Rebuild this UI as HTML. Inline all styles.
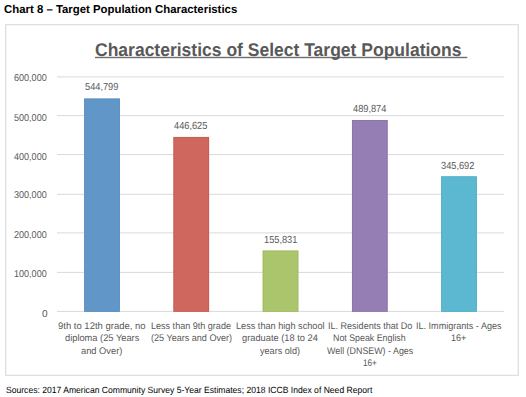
<!DOCTYPE html>
<html><head><meta charset="utf-8">
<style>
html,body{margin:0;padding:0;background:#fff;width:526px;height:397px;overflow:hidden;position:relative;font-family:"Liberation Sans",sans-serif;text-rendering:geometricPrecision;}
.t{position:absolute;white-space:nowrap;line-height:1;}
#title{left:4px;top:4.8px;font-size:11.5px;font-weight:bold;color:#000;transform:scaleX(0.99);transform-origin:0 0;}
#box{position:absolute;left:5px;top:24px;width:512px;height:350px;border:1px solid #E0E0E0;box-shadow:inset 0 0 0 1px #F4F4F4;}
svg{position:absolute;left:0;top:0;}
#ctitle{left:95px;top:41px;font-size:18.4px;font-weight:bold;color:#595959;transform:scaleX(0.952);transform-origin:0 0;}

.yl,.dl,.cl{position:absolute;white-space:nowrap;line-height:1;color:#595959;transform-origin:0 0;}
#src{left:6px;top:386px;font-size:9px;color:#000;transform:scaleX(0.953);transform-origin:0 0;}
</style></head><body>
<div id="title" class="t">Chart 8 – Target Population Characteristics</div>
<div id="box"></div>
<svg width="526" height="397" viewBox="0 0 526 397">
<g stroke="#D9D9D9" stroke-width="1">
<line x1="57" x2="504" y1="76.90" y2="76.90"/>
<line x1="57" x2="504" y1="115.60" y2="115.60"/>
<line x1="57" x2="504" y1="154.60" y2="154.60"/>
<line x1="57" x2="504" y1="194.30" y2="194.30"/>
<line x1="57" x2="504" y1="232.90" y2="232.90"/>
<line x1="57" x2="504" y1="272.40" y2="272.40"/>
<line x1="57" x2="504" y1="311.40" y2="311.40"/>
</g>
<rect x="84.23" y="98.59" width="35.6" height="212.91" fill="#6096C8"/>
<rect x="84.63" y="98.99" width="34.8" height="212.51" fill="none" stroke="#5A8DBF" stroke-width="0.8"/>
<rect x="173.47" y="136.96" width="35.6" height="174.54" fill="#CF675F"/>
<rect x="173.88" y="137.36" width="34.8" height="174.14" fill="none" stroke="#C45E57" stroke-width="0.8"/>
<rect x="262.72" y="250.60" width="35.6" height="60.90" fill="#ABC56C"/>
<rect x="263.12" y="251.00" width="34.8" height="60.50" fill="none" stroke="#A0BA62" stroke-width="0.8"/>
<rect x="351.97" y="120.06" width="35.6" height="191.44" fill="#957EB3"/>
<rect x="352.37" y="120.46" width="34.8" height="191.04" fill="none" stroke="#8A73A8" stroke-width="0.8"/>
<rect x="441.22" y="176.40" width="35.6" height="135.10" fill="#5BB8D0"/>
<rect x="441.62" y="176.80" width="34.8" height="134.70" fill="none" stroke="#52ADC5" stroke-width="0.8"/>
<rect x="95" y="56.8" width="372.3" height="1.4" fill="#6E6E6E"/>
</svg>
<div id="ctitle" class="t">Characteristics of Select Target Populations</div>
<div class="yl" style="left:13.90px;top:74.42px;font-size:10.0px;transform:scaleX(0.9046)">600,000</div>
<div class="yl" style="left:13.90px;top:114.42px;font-size:10.0px;transform:scaleX(0.9046)">500,000</div>
<div class="yl" style="left:13.90px;top:153.22px;font-size:10.0px;transform:scaleX(0.9046)">400,000</div>
<div class="yl" style="left:13.90px;top:191.42px;font-size:10.0px;transform:scaleX(0.9046)">300,000</div>
<div class="yl" style="left:13.90px;top:231.42px;font-size:10.0px;transform:scaleX(0.9046)">200,000</div>
<div class="yl" style="left:13.90px;top:270.43px;font-size:10.0px;transform:scaleX(0.9046)">100,000</div>
<div class="yl" style="left:41.70px;top:310.23px;font-size:10.0px;transform:scaleX(1.0090)">0</div>
<div class="dl" style="left:85.03px;top:82.58px;font-size:10.3px;transform:scaleX(0.8970)">544,799</div>
<div class="dl" style="left:174.28px;top:121.94px;font-size:10.3px;transform:scaleX(0.8970)">446,625</div>
<div class="dl" style="left:263.52px;top:235.58px;font-size:10.3px;transform:scaleX(0.8970)">155,831</div>
<div class="dl" style="left:352.77px;top:105.04px;font-size:10.3px;transform:scaleX(0.8970)">489,874</div>
<div class="dl" style="left:441.32px;top:162.39px;font-size:10.3px;transform:scaleX(0.8970)">345,692</div>
<div class="cl" style="left:57.60px;top:321.90px;font-size:9.6px;transform:scaleX(0.9886)">9th to 12th grade, no</div>
<div class="cl" style="left:64.60px;top:333.65px;font-size:9.6px;transform:scaleX(0.9681)">diploma (25 Years</div>
<div class="cl" style="left:81.20px;top:346.50px;font-size:9.6px;transform:scaleX(0.9702)">and Over)</div>
<div class="cl" style="left:150.70px;top:321.90px;font-size:9.6px;transform:scaleX(0.9427)">Less than 9th grade</div>
<div class="cl" style="left:150.60px;top:333.65px;font-size:9.6px;transform:scaleX(0.9439)">(25 Years and Over)</div>
<div class="cl" style="left:236.20px;top:321.90px;font-size:9.6px;transform:scaleX(0.9539)">Less than high school</div>
<div class="cl" style="left:241.80px;top:333.65px;font-size:9.6px;transform:scaleX(0.9671)">graduate (18 to 24</div>
<div class="cl" style="left:260.00px;top:346.50px;font-size:9.6px;transform:scaleX(0.9491)">years old)</div>
<div class="cl" style="left:327.50px;top:321.90px;font-size:9.6px;transform:scaleX(0.9413)">IL. Residents that Do</div>
<div class="cl" style="left:333.30px;top:333.65px;font-size:9.6px;transform:scaleX(0.9207)">Not Speak English</div>
<div class="cl" style="left:326.50px;top:346.50px;font-size:9.6px;transform:scaleX(0.9263)">Well (DNSEW) - Ages</div>
<div class="cl" style="left:362.80px;top:358.85px;font-size:9.6px;transform:scaleX(0.8542)">16+</div>
<div class="cl" style="left:415.80px;top:321.90px;font-size:9.6px;transform:scaleX(0.9436)">IL. Immigrants - Ages</div>
<div class="cl" style="left:451.20px;top:333.65px;font-size:9.6px;transform:scaleX(0.9403)">16+</div>
<div id="src" class="t">Sources: 2017 American Community Survey 5-Year Estimates; 2018 ICCB Index of Need Report</div>
</body></html>
